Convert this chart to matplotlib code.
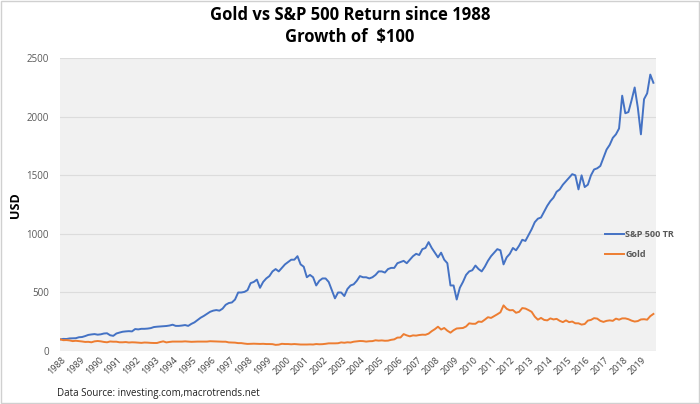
import matplotlib
matplotlib.use("Agg")
import matplotlib.pyplot as plt
from matplotlib.patches import Rectangle

# bimonthly samples: Jan, Mar, May, Jul, Sep, Nov
months = [1, 3, 5, 7, 9, 11]
first_year = 1988

# S&P 500 total return, growth of $100
sp500 = [
    100, 104, 103, 108, 109, 110,
    118, 120, 128, 138, 142, 145,
    140, 143, 150, 152, 135, 130,
    150, 158, 165, 168, 170, 168,
    188, 185, 190, 190, 192, 196,
    205, 208, 210, 212, 214, 218,
    225, 215, 215, 218, 222, 215,
    232, 245, 265, 285, 300, 318,
    335, 345, 350, 345, 362, 395,
    410, 415, 440, 500, 500, 505,
    520, 580, 590, 610, 540, 590,
    620, 640, 680, 700, 680, 710,
    740, 760, 780, 780, 810, 740,
    720, 630, 650, 630, 560, 600,
    620, 620, 590, 520, 450, 500,
    500, 470, 530, 560, 570, 600,
    640, 630, 630, 620, 630, 650,
    680, 680, 670, 700, 710, 710,
    750, 760, 770, 750, 780, 810,
    830, 820, 870, 880, 930, 880,
    840, 800, 840, 780, 750, 560,
    560, 440, 540, 590, 650, 680,
    690, 730, 700, 680, 720, 770,
    810, 840, 870, 860, 740, 800,
    830, 880, 860, 900, 950, 940,
    990, 1040, 1100, 1130, 1140, 1190,
    1240, 1280, 1310, 1360, 1380, 1420,
    1450, 1480, 1510, 1500, 1380, 1500,
    1400, 1420, 1500, 1550, 1560, 1580,
    1650, 1720, 1760, 1820, 1850, 1900,
    2180, 2030, 2040, 2140, 2250, 2080,
    1850, 2150, 2200, 2360, 2290,
]

# Gold, growth of $100
gold = [
    100, 93, 94, 91, 85, 88,
    85, 82, 78, 79, 75, 83,
    86, 83, 78, 75, 82, 80,
    80, 75, 75, 77, 73, 75,
    74, 72, 70, 73, 72, 70,
    69, 69, 77, 83, 74, 78,
    81, 81, 81, 81, 83, 81,
    79, 80, 81, 81, 81, 81,
    84, 83, 82, 81, 80, 80,
    74, 73, 72, 68, 68, 64,
    61, 62, 63, 62, 61, 62,
    60, 60, 59, 53, 55, 62,
    60, 60, 58, 60, 58, 56,
    56, 56, 57, 56, 60, 58,
    59, 62, 66, 66, 66, 67,
    74, 71, 75, 73, 80, 83,
    86, 85, 81, 84, 85, 92,
    89, 91, 88, 89, 96, 100,
    115, 116, 145, 134, 126, 134,
    132, 137, 140, 139, 149, 170,
    187, 208, 184, 197, 174, 157,
    178, 193, 195, 197, 210, 237,
    233, 233, 252, 249, 268, 289,
    283, 298, 314, 331, 390, 361,
    348, 350, 327, 335, 367, 363,
    350, 335, 294, 268, 283, 266,
    262, 279, 270, 275, 258, 247,
    262, 247, 252, 237, 237, 226,
    231, 260, 266, 281, 277, 258,
    249, 258, 262, 258, 277, 268,
    279, 279, 272, 260, 252, 256,
    270, 272, 268, 298, 317,
]

dates = []
for i in range(len(sp500)):
    dates.append(first_year + i // 6 + (months[i % 6] - 1) / 12)

year_labels = list(range(1988, 2020))
y_ticks = [0, 500, 1000, 1500, 2000, 2500]

blue = "#4472c4"
orange = "#ed7d31"

fig = plt.figure(figsize=(7, 4.04), dpi=100)
ax = fig.add_axes([0.086, 0.131, 0.851, 0.725])
ax.set_facecolor("#f1f1f1")

ax.plot(dates, sp500, color=blue, lw=1.4, label="S&P 500 TR")
ax.plot(dates, gold, color=orange, lw=1.4, label="Gold")

ax.set_ylim(0, 2500)
ax.set_xlim(1988, 2019.8)
ax.set_yticks(y_ticks)
ax.set_xticks([y + 0.05 for y in year_labels])
ax.set_xticklabels([str(y) for y in year_labels], rotation=45, ha="right",
                   rotation_mode="anchor", fontsize=6.5, color="#404040",
                   family="Open Sans")
ax.tick_params(axis="y", labelsize=7, colors="#595959", length=0, pad=8)
ax.tick_params(axis="x", length=0, pad=3)
for lab in ax.get_yticklabels():
    lab.set_family("Open Sans")
ax.grid(axis="y", color="#dcdcdc", lw=0.8)
ax.set_axisbelow(True)
for s in ax.spines.values():
    s.set_visible(False)

ax.set_ylabel("USD", fontsize=9, fontweight="bold", family="Open Sans",
              labelpad=3)

fig.suptitle("Gold vs S&P 500 Return since 1988\nGrowth of  $100",
             y=0.985, fontsize=12, fontweight="bold", family="Open Sans",
             linespacing=1.25)

leg = fig.legend(loc="center left", bbox_to_anchor=(0.852, 0.395),
                 frameon=False, handlelength=2.2,
                 handletextpad=0.1, labelspacing=1.2,
                 prop={"family": "Open Sans", "weight": "bold", "size": 6.5})
for t in leg.get_texts():
    t.set_color("#595959")

fig.text(0.081, 0.02, "Data Source: investing.com,macrotrends.net",
         fontsize=7, family="Open Sans", color="#202020")

fig.add_artist(Rectangle((0.001, 0.002), 0.997, 0.995, transform=fig.transFigure,
                         fill=False, edgecolor="#d0d0d0", lw=1))

fig.savefig("out.png", dpi=100)
